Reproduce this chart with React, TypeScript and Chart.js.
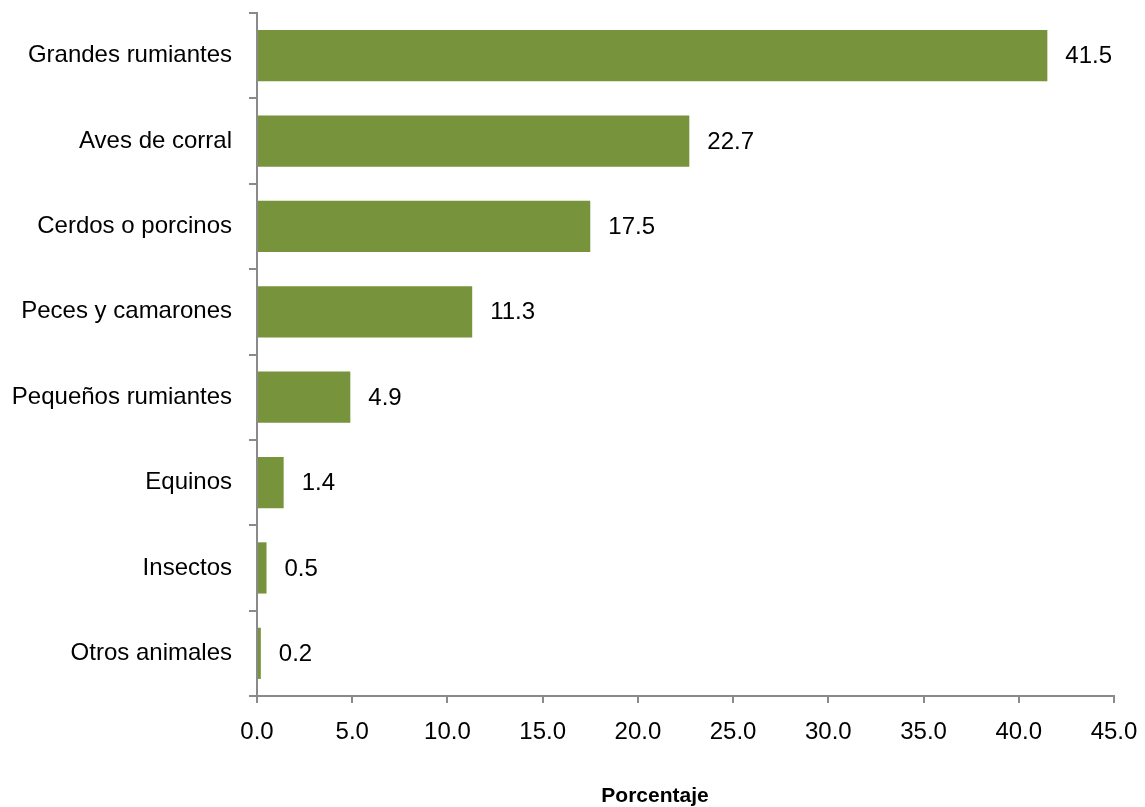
import React, { useEffect, useRef } from "react";
import { Chart, registerables } from "chart.js";

Chart.register(...registerables);

const categories = [
  "Grandes rumiantes",
  "Aves de corral",
  "Cerdos o porcinos",
  "Peces y camarones",
  "Pequeños rumiantes",
  "Equinos",
  "Insectos",
  "Otros animales",
];
const values = [41.5, 22.7, 17.5, 11.3, 4.9, 1.4, 0.5, 0.2];
const xTitle = "Porcentaje";

const FONT = "'Liberation Sans', Arial, sans-serif";
const AXIS = "#8a8a8a";

const extras = {
  id: "extras",
  afterDatasetsDraw(chart: any) {
    const ctx = chart.ctx;
    const meta = chart.getDatasetMeta(0);
    ctx.save();
    ctx.font = `24px ${FONT}`;
    ctx.fillStyle = "#000";
    ctx.textAlign = "left";
    ctx.textBaseline = "middle";
    meta.data.forEach((bar: any, i: number) => {
      ctx.fillText(values[i].toFixed(1), bar.x + 18, bar.y + 1);
    });
    ctx.font = `bold 21px ${FONT}`;
    ctx.textAlign = "center";
    ctx.fillText(xTitle, 655, 796);
    ctx.restore();
  },
};

export default function App() {
  const ref = useRef<HTMLCanvasElement | null>(null);
  useEffect(() => {
    document.body.style.margin = "0";
    const chart = new Chart(ref.current!, {
      type: "bar",
      data: {
        labels: categories,
        datasets: [
          {
            data: values,
            backgroundColor: "#77933C",
            borderWidth: 0,
            barPercentage: 0.6,
            categoryPercentage: 1,
          },
        ],
      },
      options: {
        indexAxis: "y",
        animation: false,
        responsive: false,
        layout: { padding: { top: 13, right: 31, left: 0, bottom: 0 } },
        plugins: { legend: { display: false }, tooltip: { enabled: false } },
        scales: {
          x: {
            min: 0,
            max: 45,
            ticks: {
              stepSize: 5,
              color: "#000",
              padding: 15,
              font: { family: FONT, size: 24 },
              callback: (v: any) => Number(v).toFixed(1),
            },
            grid: {
              drawOnChartArea: false,
              drawTicks: true,
              tickLength: 7,
              color: AXIS,
              lineWidth: 2,
            },
            border: { color: AXIS, width: 2 },
            afterFit: (scale: any) => {
              scale.height = 111;
              scale.paddingLeft = 0;
              scale.paddingRight = 0;
            },
          },
          y: {
            ticks: {
              color: "#000",
              padding: 17,
              font: { family: FONT, size: 24 },
            },
            grid: {
              offset: true,
              drawOnChartArea: false,
              drawTicks: true,
              tickLength: 8,
              color: AXIS,
              lineWidth: 2,
            },
            border: { color: AXIS, width: 2 },
            afterFit: (scale: any) => {
              scale.width = 257;
              scale.paddingTop = 0;
              scale.paddingBottom = 0;
            },
          },
        },
      },
      plugins: [extras],
    });
    return () => chart.destroy();
  }, []);
  return (
    <div style={{ width: 1145, height: 807 }}>
      <canvas ref={ref} width={1145} height={807} style={{ display: "block" }} />
    </div>
  );
}
